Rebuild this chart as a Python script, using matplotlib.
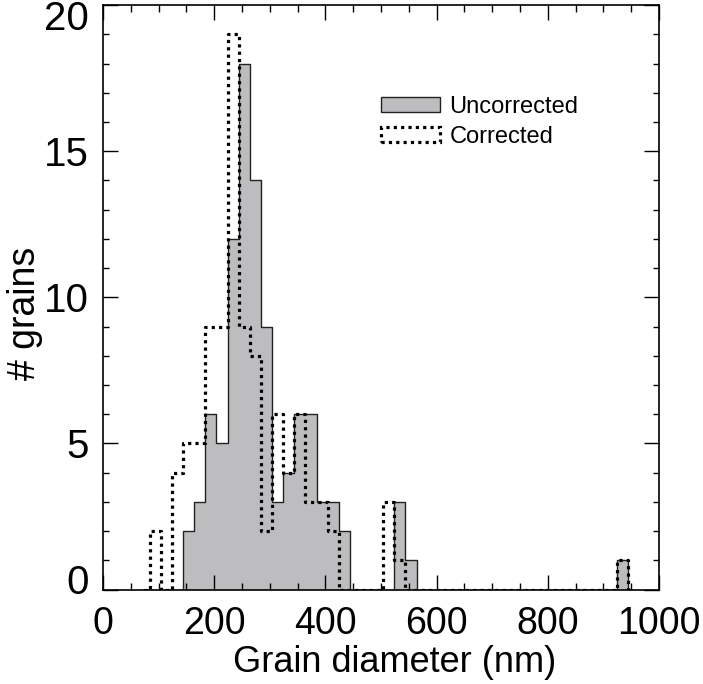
import numpy as np
import matplotlib
matplotlib.use("Agg")
import matplotlib.pyplot as plt
import matplotlib.transforms as mtransforms
from matplotlib.patches import Patch
from matplotlib.ticker import MultipleLocator

# ── Data: grain counts per 20 nm bin (bin centres 74, 94, ..., 954 nm) ──
bin_first_centre = 74
bin_width = 20

uncorrected = [0, 0, 0, 0, 2, 3, 6, 5, 12, 18,
               14, 9, 3, 4, 6, 6, 3, 3, 2, 0,
               0, 0, 0, 3, 1, 0, 0, 0, 0, 0,
               0, 0, 0, 0, 0, 0, 0, 0, 0, 0,
               0, 0, 0, 1, 0]
corrected = [0, 2, 0, 4, 5, 5, 9, 9, 19, 9,
             8, 2, 6, 4, 6, 3, 3, 2, 0, 0,
             0, 0, 3, 1, 0, 0, 0, 0, 0, 0,
             0, 0, 0, 0, 0, 0, 0, 0, 0, 0,
             0, 0, 0, 1, 0]

x_ticks = [0, 200, 400, 600, 800, 1000]
y_ticks = [0, 5, 10, 15, 20]
legend_labels = ["Uncorrected", "Corrected"]

centres = bin_first_centre + bin_width * np.arange(len(uncorrected))

FILL = "#bdbdc0"
DOTS = (0, (1.0, 1.3))
plt.rcParams["font.family"] = ["Liberation Sans", "DejaVu Sans"]

fig = plt.figure(figsize=(7.03, 6.84), dpi=100)
ax = fig.add_axes([0.1465, 0.138, 0.791, 0.8545])

# Uncorrected: grey filled histogram with thin solid outline
ax.fill_between(centres, uncorrected, step="mid", color=FILL, linewidth=0, zorder=1)
ax.step(centres, uncorrected, where="mid", color="#222222", linewidth=1.0, zorder=2)

# Corrected: thick dotted histogram line
ax.step(centres, corrected, where="mid", color="black", linewidth=2.3,
        linestyle=DOTS, zorder=3)

ax.set_xlim(0, 1000)
ax.set_ylim(0, 20)
ax.set_xticks(x_ticks)
ax.set_yticks(y_ticks)
ax.xaxis.set_minor_locator(MultipleLocator(50))
ax.yaxis.set_minor_locator(MultipleLocator(1))
ax.tick_params(which="both", direction="in", top=True, right=True, width=1.0)
ax.tick_params(axis="x", which="major", length=11, pad=12, labelsize=27)
ax.tick_params(axis="x", which="minor", length=5)
ax.tick_params(axis="y", which="major", length=11, pad=10, labelsize=29)
ax.tick_params(axis="y", which="minor", length=4)
for s in ax.spines.values():
    s.set_linewidth(1.2)

# IDL style: end labels of the y axis nudged inside the axis range
ylabels = ax.get_yticklabels()
ylabels[0].set_transform(ylabels[0].get_transform() +
                         mtransforms.ScaledTranslation(0, 11 / 100, fig.dpi_scale_trans))
ylabels[-1].set_transform(ylabels[-1].get_transform() +
                          mtransforms.ScaledTranslation(0, -10 / 100, fig.dpi_scale_trans))

ax.set_xlabel("Grain diameter (nm)", fontsize=26)
ax.xaxis.set_label_coords(0.525, -0.095)
ax.set_ylabel("# grains", fontsize=27)
ax.yaxis.set_label_coords(-0.108, 0.473)

handles = [
    Patch(facecolor=FILL, edgecolor="#222222", linewidth=1.0),
    Patch(facecolor="none", edgecolor="black", linewidth=2.3, linestyle=DOTS),
]
ax.legend(handles, legend_labels, loc="upper left",
          bbox_to_anchor=(0.50, 0.845), frameon=False, fontsize=17,
          handlelength=2.5, handleheight=0.6, handletextpad=0.4,
          labelspacing=0.33, borderaxespad=0, borderpad=0)

fig.savefig("out.png", dpi=100)
